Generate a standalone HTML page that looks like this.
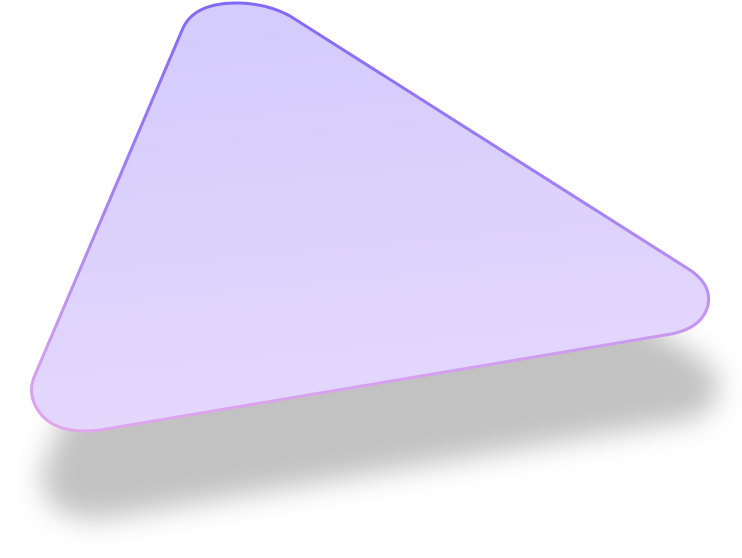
<!DOCTYPE html>
<html><head><meta charset="utf-8"><style>
html,body{margin:0;padding:0;background:#fff;width:742px;height:558px;overflow:hidden}
</style></head><body>
<svg width="742" height="558" viewBox="0 0 742 558">
<defs>
<linearGradient id="fill" x1="0" y1="0" x2="0.15" y2="1">
<stop offset="0" stop-color="#d2cbfd"/><stop offset="1" stop-color="#e4d7fc"/>
</linearGradient>
<linearGradient id="stroke" x1="0" y1="0" x2="0" y2="1">
<stop offset="0" stop-color="#8468f6"/><stop offset="0.5" stop-color="#a883f2"/><stop offset="0.85" stop-color="#d39eee"/><stop offset="1" stop-color="#e0a6ec"/>
</linearGradient>
<filter id="blur" x="-20%" y="-20%" width="140%" height="140%"><feGaussianBlur stdDeviation="14"/></filter>
</defs>
<path transform="translate(10,88)" filter="url(#blur)" fill="#c2c2c2"
d="M 183 28 Q 195 2 240 3 Q 268 4 290 16 L 690 270 Q 712 285 708 305 Q 702 330 665 335 L 100 430 Q 50 436 35 405 Q 28 390 35 375 Z"/>
<path fill="url(#fill)" stroke="url(#stroke)" stroke-width="3"
d="M 183 28 Q 195 2 240 3 Q 268 4 290 16 L 690 270 Q 712 285 708 305 Q 702 330 665 335 L 100 430 Q 50 436 35 405 Q 28 390 35 375 Z"/>
</svg>
</body></html>
